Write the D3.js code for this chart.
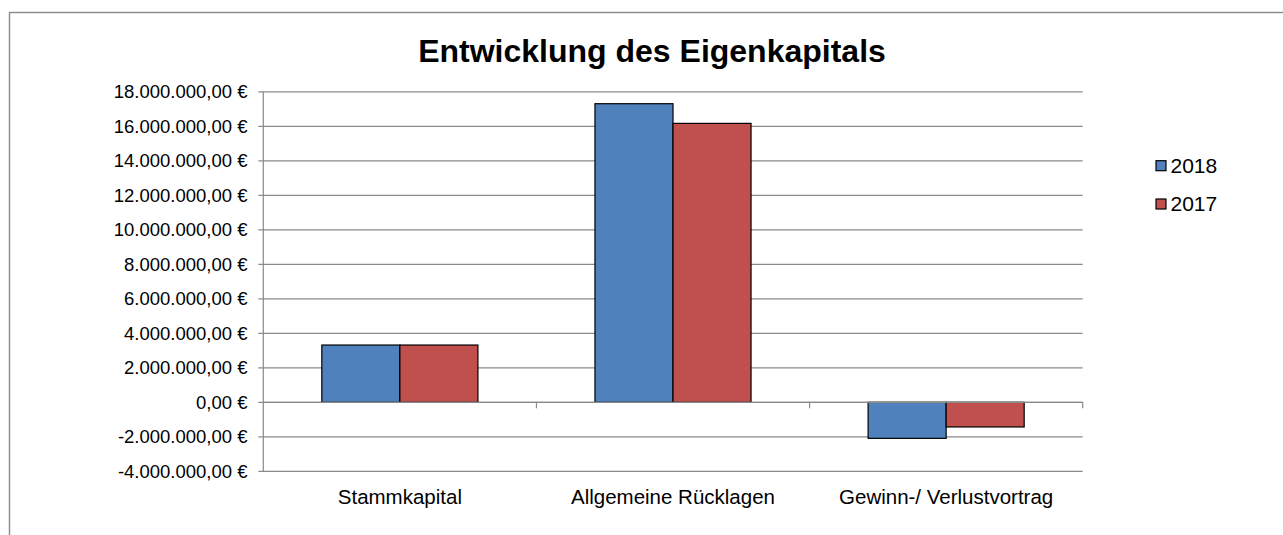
<!DOCTYPE html>
<meta charset="utf-8">
<style>
  body { margin: 0; background: #fff; }
  text { font-family: "Liberation Sans", Arial, sans-serif; fill: #000; }
</style>
<script src="https://d3js.org/d3.v7.min.js"></script>
<body>
<svg id="chart" width="1283" height="535"></svg>
<script>

// data
var categories = ["Stammkapital", "Allgemeine Rücklagen", "Gewinn-/ Verlustvortrag"]
var seriesNames = ["2018", "2017"]
var values2018 = [3320000, 17310000, -2090000]
var values2017 = [3320000, 16170000, -1430000]
var yTicks = [-4000000, -2000000, 0, 2000000, 4000000, 6000000, 8000000, 10000000, 12000000, 14000000, 16000000, 18000000]

var colors = ["#4F81BD", "#C0504D"]
var gridColor = "#8a8a8a"

var de = d3.formatLocale({decimal: ",", thousands: ".", grouping: [3], currency: ["", " €"], minus: "-"})
var fmt = de.format("$,.2f")

var svg = d3.select("#chart")

// outer chart frame (runs past the right and bottom edge)
svg.append("rect")
  .attr("x", 9.5).attr("y", 12.5)
  .attr("width", 1300).attr("height", 600)
  .attr("fill", "none")
  .attr("stroke", gridColor)
  .attr("stroke-width", 1.4)

var plotLeft = 263.3, plotRight = 1082.7

var y = d3.scaleLinear()
  .domain([-4000000, 18000000])
  .range([471.3, 91.8])

var x = d3.scaleBand()
  .domain(categories)
  .range([plotLeft, plotRight])

var barW = x.bandwidth() * 78 / 273
var clusterOff = (x.bandwidth() - 2 * barW) / 2

// gridlines
svg.append("g").selectAll("line")
  .data(yTicks)
  .enter().append("line")
  .attr("x1", plotLeft - 5).attr("x2", plotRight)
  .attr("y1", function(d) { return y(d) }).attr("y2", function(d) { return y(d) })
  .attr("stroke", gridColor)
  .attr("stroke-width", 1.2)

// y axis line
svg.append("line")
  .attr("x1", plotLeft).attr("x2", plotLeft)
  .attr("y1", y(18000000)).attr("y2", y(-4000000))
  .attr("stroke", gridColor).attr("stroke-width", 1.2)

// y tick labels
svg.append("g").selectAll("text")
  .data(yTicks)
  .enter().append("text")
  .attr("x", 247.5)
  .attr("y", function(d) { return y(d) })
  .attr("dy", "0.35em")
  .attr("text-anchor", "end")
  .style("font-size", "18.5px")
  .text(function(d) { return fmt(d) })

// bars
var series = [values2018, values2017]
series.forEach(function(vals, s) {
  svg.append("g").selectAll("rect")
    .data(vals)
    .enter().append("rect")
    .attr("x", function(d, i) { return x(categories[i]) + clusterOff + s * barW })
    .attr("y", function(d) { return y(Math.max(d, 0)) })
    .attr("width", barW)
    .attr("height", function(d) { return Math.abs(y(d) - y(0)) })
    .attr("fill", colors[s])
    .attr("stroke", "#000")
    .attr("stroke-width", 1.2)
})

// x axis on zero line with ticks between categories
svg.append("line")
  .attr("x1", plotLeft).attr("x2", plotRight)
  .attr("y1", y(0)).attr("y2", y(0))
  .attr("stroke", gridColor).attr("stroke-width", 1.2)

svg.append("g").selectAll("line")
  .data(categories)
  .enter().append("line")
  .attr("x1", function(d) { return x(d) + x.bandwidth() })
  .attr("x2", function(d) { return x(d) + x.bandwidth() })
  .attr("y1", y(0)).attr("y2", y(0) + 6)
  .attr("stroke", gridColor).attr("stroke-width", 1.2)

// category labels
svg.append("g").selectAll("text")
  .data(categories)
  .enter().append("text")
  .attr("x", function(d) { return x(d) + x.bandwidth() / 2 })
  .attr("y", 504)
  .attr("text-anchor", "middle")
  .style("font-size", "20.5px")
  .text(function(d) { return d })

// title
svg.append("text")
  .attr("x", 652).attr("y", 62)
  .attr("text-anchor", "middle")
  .style("font-size", "32px")
  .style("font-weight", "bold")
  .text("Entwicklung des Eigenkapitals")

// legend
var legend = svg.append("g").selectAll("g")
  .data(seriesNames)
  .enter().append("g")
  .attr("transform", function(d, i) { return "translate(1156," + (160.7 + i * 38.3) + ")" })

legend.append("rect")
  .attr("width", 10).attr("height", 10)
  .attr("fill", function(d, i) { return colors[i] })
  .attr("stroke", "#000").attr("stroke-width", 1.2)

legend.append("text")
  .attr("x", 14.5).attr("y", 12)
  .style("font-size", "21px")
  .text(function(d) { return d })

</script>
</body>
